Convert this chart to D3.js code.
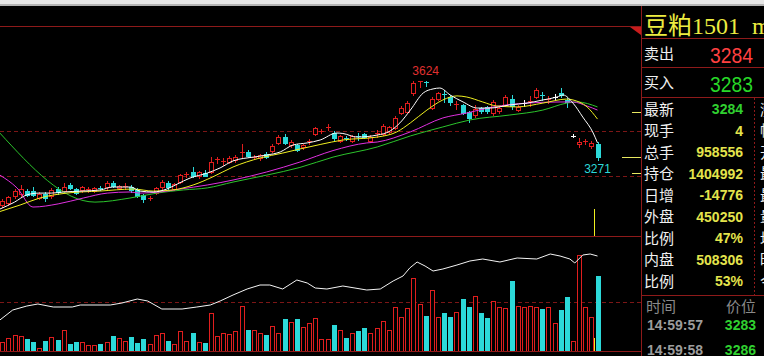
<!DOCTYPE html>
<html><head><meta charset="utf-8">
<script src="https://cdn.jsdelivr.net/npm/d3@7"></script>
<style>
html,body{margin:0;padding:0;background:#000;overflow:hidden;}
svg{display:block;}
</style></head><body>
<svg id="c" width="764" height="356" shape-rendering="crispEdges"></svg>
<script>
// ---------- data ----------
const opens = [3070,3079,3111,3120,3135,3133,3104,3120,3111,3142,
3133,3160,3141,3138,3138,3133,3148,3150,3169,3147,
3154,3151,3138,3116,3101,3123,3151,3170,3142,3175,
3207,3218,3200,3214,3219,3273,3262,3264,3271,3302,
3308,3282,3279,3298,3312,3348,3375,3338,3338,3328,
3351,3387,3398,3413,3390,3356,3369,3357,3378,3387,
3356,3388,3387,3397,3412,3481,3486,3567,3618,3618,
3502,3544,3566,3553,3519,3516,3484,3471,3501,3505,
3480,3489,3516,3542,3493,3525,3531,3552,3560,3538,
3552,3569,3540,3376,3344,3351,3333,3342];
const highs = [3096,3113,3142,3160,3142,3151,3127,3127,3145,3149,
3170,3167,3147,3156,3151,3153,3156,3178,3176,3162,
3169,3158,3145,3120,3111,3151,3180,3178,3169,3211,
3218,3240,3222,3227,3286,3285,3280,3289,3293,3342,
3316,3293,3298,3307,3340,3382,3387,3360,3344,3344,
3364,3420,3409,3431,3400,3384,3376,3384,3391,3393,
3382,3404,3431,3424,3465,3509,3533,3622,3623,3624,
3551,3573,3582,3560,3533,3522,3491,3516,3507,3511,
3538,3511,3558,3560,3516,3538,3556,3589,3573,3556,
3564,3590,3547,3387,3371,3364,3356,3351];
const lows = [3062,3071,3104,3113,3109,3109,3098,3090,3104,3122,
3127,3140,3120,3131,3131,3129,3138,3144,3151,3142,
3142,3131,3107,3084,3093,3118,3144,3144,3138,3169,
3196,3196,3193,3198,3213,3258,3249,3258,3264,3284,
3284,3276,3273,3282,3307,3342,3340,3331,3309,3322,
3340,3380,3391,3404,3362,3349,3358,3351,3360,3369,
3349,3373,3382,3391,3407,3476,3480,3562,3596,3600,
3496,3538,3529,3516,3498,3476,3442,3464,3482,3482,
3473,3482,3509,3498,3487,3511,3511,3547,3538,3524,
3542,3553,3507,3373,3329,3340,3324,3271];
const closes = [3089,3105,3135,3141,3116,3116,3120,3101,3136,3128,
3152,3145,3126,3150,3144,3147,3145,3170,3156,3156,
3157,3138,3111,3098,3104,3145,3173,3150,3163,3204,
3210,3200,3216,3202,3264,3276,3265,3281,3286,3308,
3289,3285,3293,3286,3333,3375,3345,3353,3316,3338,
3356,3413,3400,3420,3368,3378,3364,3378,3375,3375,
3375,3391,3422,3416,3456,3501,3526,3613,3621,3613,
3542,3567,3563,3529,3521,3481,3458,3500,3489,3489,
3531,3504,3551,3509,3508,3525,3534,3582,3556,3541,
3552,3560,3527,3376,3351,3354,3347,3284];
// volume, 10k lots
const volumes = [11.5,16.5,20.4,18.7,15.7,11.5,4.2,12.7,17.8,14.4,
26.7,8.9,11.5,11.5,7.6,7.6,8.5,11.5,19.1,16.2,
12.7,17.8,10.2,15.3,8.5,20,22.5,12.7,8.5,25.5,
12.7,22.5,11.5,9.8,48.4,19.1,22.5,21.6,25.5,57.3,
26.5,26.5,22.5,20.1,31.8,22.9,41.1,36.9,41.1,30.8,
35.3,42,14.9,14.9,32.7,26.7,16.9,22.5,25.5,28.9,
22.5,28.9,38.2,26.7,56,43,54.4,92.5,59.4,44.6,
77.7,42.9,48,42.9,49.3,65.8,55.6,70,48,41.6,
64,55.6,54.4,89.1,57.7,56.4,57.7,55.6,53.5,56.4,
35.3,52.2,68.4,12.7,122.2,55.6,42.9,95.9];
// moving averages: [bar index, price]
const ma5 = [[-0.4,3053],[2,3084],[4,3116],[6,3124],[8,3124],[10,3129],[13,3133],[16,3138],[18,3151],[21,3151],[22.4,3133],[24.6,3129],[26.8,3142],[28.5,3164],[30.6,3191],[33.4,3213],[35.5,3236],[37.6,3267],[40.9,3284],[43.1,3293],[45.3,3307],[47.4,3338],[49.7,3347],[51.8,3360],[54.5,3391],[55.5,3389],[57.8,3373],[61.1,3382],[63.2,3400],[64.8,3436],[66.5,3493],[68.6,3569],[70.2,3587],[71.3,3591],[73,3560],[75.1,3529],[77.4,3502],[79.5,3502],[82.7,3516],[85.5,3524],[88.1,3538],[90.4,3551],[91.4,3560],[93,3524],[94.6,3462],[96.3,3391],[97,3347]];
const ma10 = [[-0.4,3042],[2.9,3071],[6.1,3102],[10.5,3124],[15.9,3133],[21.3,3142],[24.6,3133],[27.8,3138],[31.1,3160],[34.3,3196],[37.6,3240],[42,3280],[45.7,3302],[48.5,3320],[51.8,3340],[55.5,3360],[61.1,3373],[64.3,3396],[66.5,3436],[69.2,3493],[71.8,3538],[74.1,3556],[75.7,3551],[78.3,3529],[80.6,3511],[83.9,3507],[88.1,3524],[92,3542],[93,3538],[95.3,3507],[97,3453]];
const ma20 = [[-0.4,3204],[2.4,3147],[5,3062],[9.1,3076],[13.2,3102],[17.1,3124],[20.8,3129],[22.4,3124],[25.7,3129],[29,3142],[33.4,3160],[37.6,3182],[43.1,3218],[48.5,3262],[53.9,3313],[59.4,3347],[61.1,3351],[66.5,3396],[71.8,3458],[75.7,3480],[80,3507],[85.5,3524],[90.9,3529],[93,3529],[95.3,3511],[97,3493]];
const ma40 = [[-0.4,3391],[15.1,3084],[20.8,3102],[25.2,3124],[29.5,3138],[33.4,3147],[37.6,3173],[43.1,3204],[48.5,3238],[53.9,3284],[61.1,3329],[66.5,3378],[71.8,3418],[76.2,3449],[82.7,3471],[88.1,3493],[92,3524],[93.7,3529],[97,3507]];
// open interest, 10k lots: [bar index, value]
const openInterest = [[-0.4,108.5],[1.7,113.5],[4,115.5],[5.8,116.5],[8.3,115],[11.4,115],[12.7,116],[17.6,116],[19.5,117],[22,119],[23.7,118],[26,114],[29.3,114],[31.7,115],[33.9,116],[35.5,118],[37.6,121],[39.9,124],[42,126],[43.6,126],[45.7,124],[48,128.5],[49.7,127],[51,124.5],[52.9,124],[55.5,125.5],[59.4,123.5],[61.6,124],[63.7,128],[65.3,130.5],[66.4,134.5],[67.6,137.5],[68.9,135.5],[70.2,133],[71.8,134],[74.1,136],[76.2,138],[78.3,139],[81.1,137.5],[83.9,139.5],[87.1,139],[89.3,141.5],[90.9,140.5],[92.5,139],[93.3,137],[94.6,141],[95.8,141.5],[97,140.5]];
const priceGuides = [3400, 3200];
const volumeGuides = [62.4];
const priceMarkers = [3484, 3284, 3213];
const nowMark = {price: 3053, volume: 16.5};

const title = '豆粕1501';
const titleCode = 'm1501';
const askLabel = '卖出', askPrice = '3284';
const bidLabel = '买入', bidPrice = '3283';
const infoLabels = ['最新','现手','总手','持仓','日增','外盘','比例','内盘','比例'];
const infoValues = ['3284','4','958556','1404992','-14776','450250','47%','508306','53%'];
const infoLabels2 = ['涨跌','幅度','开盘','最高','最低','量比','均价','昨结','今结'];
const tickHeader = ['时间','价位'];
const tickTimes = ['14:59:57','14:59:58'];
const tickPrices = ['3283','3286'];

// ---------- drawing ----------
const RED = '#e01e1e', CYAN = '#2cd9d9', WHITE = '#ffffff';
const FRAME = '#8e1a1a', DASH = '#7c1616';
const svg = d3.select('#c');
svg.append('rect').attr('width',764).attr('height',356).attr('fill','#000');
svg.append('rect').attr('x',0).attr('y',0).attr('width',764).attr('height',6).attr('fill','#e6e6e6');
svg.append('rect').attr('x',0).attr('y',4).attr('width',764).attr('height',2).attr('fill','#b4b4b4');

const n = closes.length;
const x = d3.scaleLinear().domain([0, n-1]).range([2.3, 597.5]);
const y = d3.scaleLinear().domain([2933.3, 3866.7]).range([236, 26]);
const yV = d3.scaleLinear().domain([0, 146.4]).range([351, 236]);
const yOI = d3.scaleLinear().domain([93, 150.5]).range([351, 236]);
const px = i => Math.round(x(i));

const defs = svg.append('defs');
defs.append('clipPath').attr('id','cpPrice').append('rect').attr('x',0).attr('y',27).attr('width',641).attr('height',209);
defs.append('clipPath').attr('id','cpVol').append('rect').attr('x',0).attr('y',237).attr('width',641).attr('height',114);

// hollow box drawn as filled outer rect + black inner rect (crisp 1px outline)
function hollow(g, x0, y0, w, h, col) {
  g.append('rect').attr('x',x0).attr('y',y0).attr('width',w).attr('height',h).attr('fill',col);
  if (w > 2 && h > 2) g.append('rect').attr('x',x0+1).attr('y',y0+1).attr('width',w-2).attr('height',h-2).attr('fill','#000');
}

// frame lines
const frame = svg.append('g');
[26, 236, 351].forEach(v => frame.append('rect').attr('x',0).attr('y',v).attr('width',641).attr('height',1).attr('fill',FRAME));
frame.selectAll('.pg').data(priceGuides).join('line')
  .attr('x1',0).attr('x2',641).attr('y1',d=>Math.round(y(d))+0.5).attr('y2',d=>Math.round(y(d))+0.5)
  .attr('stroke',DASH).attr('stroke-dasharray','4,3');
frame.selectAll('.vg').data(volumeGuides).join('line')
  .attr('x1',0).attr('x2',641).attr('y1',d=>Math.round(yV(d))+0.5).attr('y2',d=>Math.round(yV(d))+0.5)
  .attr('stroke',DASH).attr('stroke-dasharray','4,3');
frame.append('rect').attr('x',641).attr('y',6).attr('width',1).attr('height',350).attr('fill',FRAME);
frame.append('path').attr('d','M630,27L641,27L641,35Z').attr('fill','#c81c1c').attr('shape-rendering','auto');

// candles
const gC = svg.append('g').attr('clip-path','url(#cpPrice)');
gC.selectAll('g.k').data(d3.range(n)).join('g').attr('class','k').each(function(i){
  const g = d3.select(this);
  const o = opens[i], c = closes[i], h = highs[i], l = lows[i];
  const X = px(i);
  const col = c > o ? RED : (c < o ? CYAN : WHITE);
  const yT = Math.round(y(Math.max(o,c))), yB = Math.round(y(Math.min(o,c)));
  const yH = Math.round(y(h)), yL = Math.round(y(l));
  g.append('rect').attr('x',X).attr('y',yH).attr('width',1).attr('height',yL-yH+1).attr('fill',col);
  if (yB - yT < 2) {
    g.append('rect').attr('x',X-2).attr('y',yT).attr('width',5).attr('height',Math.max(1,yB-yT)).attr('fill',col);
  } else if (c > o) {
    hollow(g, X-2, yT, 5, yB-yT+1, col);
  } else {
    g.append('rect').attr('x',X-2).attr('y',yT).attr('width',5).attr('height',yB-yT+1).attr('fill',col);
  }
});

// moving averages
const maLine = d3.line().x(d=>x(d[0])).y(d=>y(d[1])).curve(d3.curveMonotoneX);
[[ma40,'#2cc42c'],[ma20,'#e030e0'],[ma10,'#f0f020'],[ma5,'#ffffff']].forEach(([pts,col]) => {
  gC.append('path').attr('d',maLine(pts)).attr('fill','none').attr('stroke',col).attr('stroke-width',1)
    .attr('shape-rendering','auto');
});

// high label (highest high) and low label (lowest low after the high)
const iHi = d3.maxIndex(highs);
const iLo = iHi + d3.minIndex(lows.slice(iHi));
svg.append('text').attr('x',x(iHi)).attr('y',y(highs[iHi])-6).attr('text-anchor','middle')
  .attr('font-family','Liberation Sans, Arial, sans-serif').attr('font-size',12).attr('fill','#e03030').text(highs[iHi]);
svg.append('text').attr('x',x(iLo)).attr('y',y(lows[iLo])+13).attr('text-anchor','middle')
  .attr('font-family','Liberation Sans, Arial, sans-serif').attr('font-size',12).attr('fill',CYAN).text(lows[iLo]);

// price markers at right edge
const last = closes[n-1];
svg.selectAll('.pm').data(priceMarkers).join('rect')
  .attr('x',d => d === last ? 622 : 632).attr('width',d => d === last ? 19 : 9)
  .attr('y',d=>Math.round(y(d))).attr('height',1)
  .attr('fill','#e8e860');
// now-mark (yellow) at last bar
const nx = px(n-1) - 4;
svg.append('rect').attr('x',nx).attr('width',1).attr('y',Math.round(y(nowMark.price))).attr('height',236-Math.round(y(nowMark.price))).attr('fill','#f0f020');

// volume bars
const gV = svg.append('g').attr('clip-path','url(#cpVol)');
gV.selectAll('g.v').data(d3.range(n)).join('g').attr('class','v').each(function(i){
  const g = d3.select(this);
  const X = px(i), top = Math.round(yV(volumes[i]));
  if (closes[i] >= opens[i]) hollow(g, X-2, top, 5, 351-top+1, RED);
  else g.append('rect').attr('x',X-2).attr('y',top).attr('width',5).attr('height',351-top).attr('fill',CYAN);
});
gV.append('rect').attr('x',nx).attr('width',1).attr('y',Math.round(yV(nowMark.volume))).attr('height',351-Math.round(yV(nowMark.volume))).attr('fill','#f0f020');
const oiLine = d3.line().x(d=>x(d[0])).y(d=>yOI(d[1]));
gV.append('path').attr('d',oiLine(openInterest)).attr('fill','none').attr('stroke','#f4f4f4').attr('stroke-width',1)
  .attr('shape-rendering','auto');

// ---------- right panel ----------
const rp = svg.append('g');
const CJK = 'Noto Sans CJK SC, sans-serif';
const NUM = 'Liberation Sans, Arial, sans-serif';
[38, 67, 97, 295].forEach(v => rp.append('rect').attr('x',642).attr('width',122).attr('y',v).attr('height',1).attr('fill',FRAME));
rp.append('line').attr('x1',754.5).attr('x2',754.5).attr('y1',98).attr('y2',295).attr('stroke',FRAME).attr('stroke-dasharray','2,2');

rp.append('text').attr('x',644).attr('y',34).attr('font-family','Liberation Serif, Noto Sans CJK SC, serif')
  .attr('font-size',24).attr('fill','#ecec40').text(title);
rp.append('text').attr('x',752).attr('y',34).attr('font-family','Liberation Serif, serif')
  .attr('font-size',24).attr('fill','#ecec40').text(titleCode);

rp.append('text').attr('x',644).attr('y',59).attr('font-family',CJK).attr('font-size',15).attr('fill','#f0f0f0').text(askLabel);
rp.append('text').attr('x',753).attr('y',63).attr('text-anchor','end').attr('font-family',NUM).attr('font-size',22)
  .attr('textLength',43).attr('lengthAdjust','spacingAndGlyphs').attr('fill','#ff4040').text(askPrice);
rp.append('text').attr('x',644).attr('y',88).attr('font-family',CJK).attr('font-size',15).attr('fill','#f0f0f0').text(bidLabel);
rp.append('text').attr('x',753).attr('y',92).attr('text-anchor','end').attr('font-family',NUM).attr('font-size',22)
  .attr('textLength',43).attr('lengthAdjust','spacingAndGlyphs').attr('fill','#28d828').text(bidPrice);

const rowY = k => 109 + 21.5*k;
rp.selectAll('.il').data(infoLabels).join('text')
  .attr('x',644).attr('y',(d,k)=>rowY(k)+5.5).attr('font-family',CJK).attr('font-size',15).attr('fill','#f0f0f0').text(d=>d);
rp.selectAll('.iv').data(infoValues).join('text')
  .attr('x',743).attr('y',(d,k)=>rowY(k)+5).attr('text-anchor','end').attr('font-family',NUM).attr('font-weight','bold')
  .attr('font-size',14).attr('fill',(d,k)=>k===0 ? '#30d030' : '#e4e44c').text(d=>d);
rp.selectAll('.il2').data(infoLabels2).join('text')
  .attr('x',760).attr('y',(d,k)=>rowY(k)+5.5).attr('font-family',CJK).attr('font-size',15).attr('fill','#f0f0f0').text(d=>d);

rp.append('text').attr('x',646).attr('y',311.5).attr('font-family',CJK).attr('font-size',15).attr('fill','#8a8a8a').text(tickHeader[0]);
rp.append('text').attr('x',756).attr('y',311.5).attr('text-anchor','end').attr('font-family',CJK).attr('font-size',15).attr('fill','#8a8a8a').text(tickHeader[1]);
rp.selectAll('.tt').data(tickTimes).join('text')
  .attr('x',647).attr('y',(d,k)=>330+24.5*k).attr('font-family',NUM).attr('font-weight','bold').attr('font-size',14)
  .attr('fill','#9c9c9c').text(d=>d);
rp.selectAll('.tp').data(tickPrices).join('text')
  .attr('x',756).attr('y',(d,k)=>330+24.5*k).attr('text-anchor','end').attr('font-family',NUM).attr('font-weight','bold').attr('font-size',14)
  .attr('fill','#30d030').text(d=>d);
</script>
</body></html>
